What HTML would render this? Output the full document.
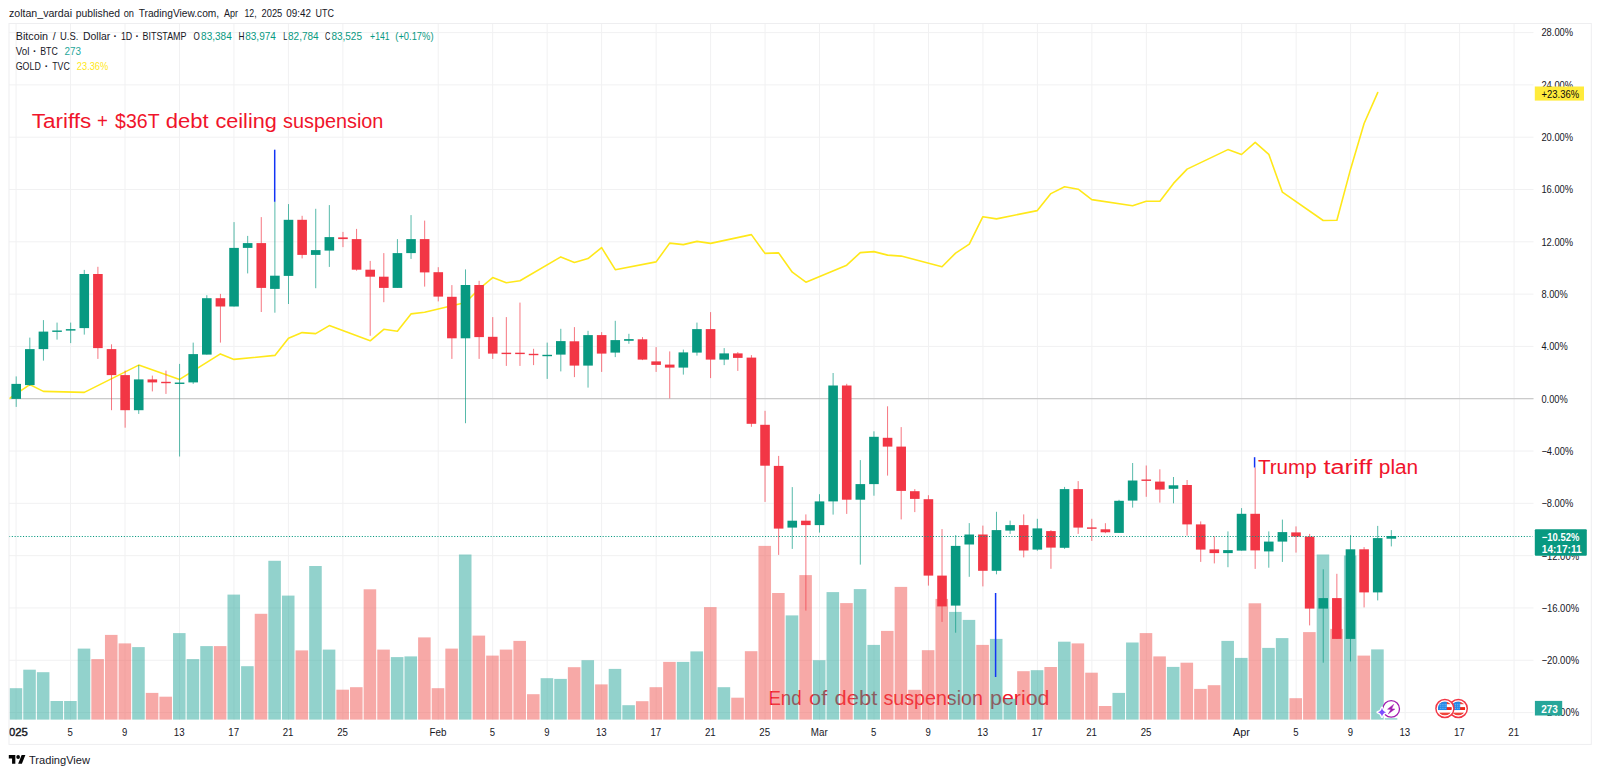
<!DOCTYPE html>
<html lang="en"><head><meta charset="utf-8"><title>BTCUSD chart</title>
<style>html,body{margin:0;padding:0;background:#fff;}body{width:1600px;height:775px;overflow:hidden;}svg{display:block;font-family:"Liberation Sans", "DejaVu Sans", sans-serif;}</style>
</head><body>
<svg width="1600" height="775" viewBox="0 0 1600 775">
<rect width="1600" height="775" fill="#fff"/>
<defs><clipPath id="pane"><rect x="9" y="24" width="1524.5" height="695.8"/></clipPath></defs>
<g stroke="#F1F1F2" stroke-width="1" shape-rendering="auto">
<line x1="16.07" y1="24" x2="16.07" y2="719.8"/>
<line x1="70.54" y1="24" x2="70.54" y2="719.8"/>
<line x1="125.01" y1="24" x2="125.01" y2="719.8"/>
<line x1="179.49" y1="24" x2="179.49" y2="719.8"/>
<line x1="233.96" y1="24" x2="233.96" y2="719.8"/>
<line x1="288.43" y1="24" x2="288.43" y2="719.8"/>
<line x1="342.90" y1="24" x2="342.90" y2="719.8"/>
<line x1="438.23" y1="24" x2="438.23" y2="719.8"/>
<line x1="492.70" y1="24" x2="492.70" y2="719.8"/>
<line x1="547.17" y1="24" x2="547.17" y2="719.8"/>
<line x1="601.64" y1="24" x2="601.64" y2="719.8"/>
<line x1="656.12" y1="24" x2="656.12" y2="719.8"/>
<line x1="710.59" y1="24" x2="710.59" y2="719.8"/>
<line x1="765.06" y1="24" x2="765.06" y2="719.8"/>
<line x1="819.53" y1="24" x2="819.53" y2="719.8"/>
<line x1="874.00" y1="24" x2="874.00" y2="719.8"/>
<line x1="928.48" y1="24" x2="928.48" y2="719.8"/>
<line x1="982.95" y1="24" x2="982.95" y2="719.8"/>
<line x1="1037.42" y1="24" x2="1037.42" y2="719.8"/>
<line x1="1091.89" y1="24" x2="1091.89" y2="719.8"/>
<line x1="1146.36" y1="24" x2="1146.36" y2="719.8"/>
<line x1="1241.69" y1="24" x2="1241.69" y2="719.8"/>
<line x1="1296.16" y1="24" x2="1296.16" y2="719.8"/>
<line x1="1350.63" y1="24" x2="1350.63" y2="719.8"/>
<line x1="1405.11" y1="24" x2="1405.11" y2="719.8"/>
<line x1="1459.58" y1="24" x2="1459.58" y2="719.8"/>
<line x1="1514.05" y1="24" x2="1514.05" y2="719.8"/>
<line x1="9" y1="32.58" x2="1533.5" y2="32.58"/>
<line x1="9" y1="84.88" x2="1533.5" y2="84.88"/>
<line x1="9" y1="137.19" x2="1533.5" y2="137.19"/>
<line x1="9" y1="189.50" x2="1533.5" y2="189.50"/>
<line x1="9" y1="241.81" x2="1533.5" y2="241.81"/>
<line x1="9" y1="294.11" x2="1533.5" y2="294.11"/>
<line x1="9" y1="346.42" x2="1533.5" y2="346.42"/>
<line x1="9" y1="398.73" x2="1533.5" y2="398.73"/>
<line x1="9" y1="451.04" x2="1533.5" y2="451.04"/>
<line x1="9" y1="503.35" x2="1533.5" y2="503.35"/>
<line x1="9" y1="555.65" x2="1533.5" y2="555.65"/>
<line x1="9" y1="607.96" x2="1533.5" y2="607.96"/>
<line x1="9" y1="660.27" x2="1533.5" y2="660.27"/>
<line x1="9" y1="712.58" x2="1533.5" y2="712.58"/>
</g>
<line x1="9" y1="398.6" x2="1533.5" y2="398.6" stroke="#CBCBCB" stroke-width="1.3"/>
<text x="768.40" y="704.70" font-size="20" fill="#F0142B" textLength="33.20" lengthAdjust="spacingAndGlyphs">End</text>
<text x="809.10" y="704.70" font-size="20" fill="#F0142B" textLength="18.20" lengthAdjust="spacingAndGlyphs">of</text>
<text x="834.40" y="704.70" font-size="20" fill="#F0142B" textLength="42.90" lengthAdjust="spacingAndGlyphs">debt</text>
<text x="883.50" y="704.70" font-size="20" fill="#F0142B" textLength="99.40" lengthAdjust="spacingAndGlyphs">suspension</text>
<text x="990.00" y="704.70" font-size="20" fill="#F0142B" textLength="59.50" lengthAdjust="spacingAndGlyphs">period</text>
<g clip-path="url(#pane)">
<rect x="9.65" y="688.20" width="12.55" height="31.60" fill="#26A69A" fill-opacity="0.5"/>
<rect x="23.26" y="669.70" width="12.55" height="50.10" fill="#26A69A" fill-opacity="0.5"/>
<rect x="36.88" y="672.20" width="12.55" height="47.60" fill="#26A69A" fill-opacity="0.5"/>
<rect x="50.50" y="701.00" width="12.55" height="18.80" fill="#26A69A" fill-opacity="0.5"/>
<rect x="64.11" y="701.00" width="12.55" height="18.80" fill="#26A69A" fill-opacity="0.5"/>
<rect x="77.73" y="648.60" width="12.55" height="71.20" fill="#26A69A" fill-opacity="0.5"/>
<rect x="91.34" y="659.10" width="12.55" height="60.70" fill="#EF5350" fill-opacity="0.5"/>
<rect x="104.96" y="634.90" width="12.55" height="84.90" fill="#EF5350" fill-opacity="0.5"/>
<rect x="118.57" y="643.40" width="12.55" height="76.40" fill="#EF5350" fill-opacity="0.5"/>
<rect x="132.18" y="647.10" width="12.55" height="72.70" fill="#26A69A" fill-opacity="0.5"/>
<rect x="145.80" y="692.90" width="12.55" height="26.90" fill="#EF5350" fill-opacity="0.5"/>
<rect x="159.41" y="696.70" width="12.55" height="23.10" fill="#EF5350" fill-opacity="0.5"/>
<rect x="173.03" y="633.10" width="12.55" height="86.70" fill="#26A69A" fill-opacity="0.5"/>
<rect x="186.64" y="659.10" width="12.55" height="60.70" fill="#26A69A" fill-opacity="0.5"/>
<rect x="200.26" y="646.10" width="12.55" height="73.70" fill="#26A69A" fill-opacity="0.5"/>
<rect x="213.87" y="646.10" width="12.55" height="73.70" fill="#EF5350" fill-opacity="0.5"/>
<rect x="227.49" y="594.60" width="12.55" height="125.20" fill="#26A69A" fill-opacity="0.5"/>
<rect x="241.10" y="666.20" width="12.55" height="53.60" fill="#26A69A" fill-opacity="0.5"/>
<rect x="254.72" y="613.80" width="12.55" height="106.00" fill="#EF5350" fill-opacity="0.5"/>
<rect x="268.33" y="560.80" width="12.55" height="159.00" fill="#26A69A" fill-opacity="0.5"/>
<rect x="281.95" y="595.60" width="12.55" height="124.20" fill="#26A69A" fill-opacity="0.5"/>
<rect x="295.56" y="650.40" width="12.55" height="69.40" fill="#EF5350" fill-opacity="0.5"/>
<rect x="309.18" y="566.00" width="12.55" height="153.80" fill="#26A69A" fill-opacity="0.5"/>
<rect x="322.79" y="649.60" width="12.55" height="70.20" fill="#26A69A" fill-opacity="0.5"/>
<rect x="336.41" y="689.70" width="12.55" height="30.10" fill="#EF5350" fill-opacity="0.5"/>
<rect x="350.02" y="687.20" width="12.55" height="32.60" fill="#EF5350" fill-opacity="0.5"/>
<rect x="363.64" y="589.30" width="12.55" height="130.50" fill="#EF5350" fill-opacity="0.5"/>
<rect x="377.25" y="649.60" width="12.55" height="70.20" fill="#EF5350" fill-opacity="0.5"/>
<rect x="390.87" y="657.10" width="12.55" height="62.70" fill="#26A69A" fill-opacity="0.5"/>
<rect x="404.48" y="656.40" width="12.55" height="63.40" fill="#26A69A" fill-opacity="0.5"/>
<rect x="418.10" y="637.40" width="12.55" height="82.40" fill="#EF5350" fill-opacity="0.5"/>
<rect x="431.71" y="688.20" width="12.55" height="31.60" fill="#EF5350" fill-opacity="0.5"/>
<rect x="445.33" y="648.60" width="12.55" height="71.20" fill="#EF5350" fill-opacity="0.5"/>
<rect x="458.94" y="554.50" width="12.55" height="165.30" fill="#26A69A" fill-opacity="0.5"/>
<rect x="472.56" y="635.60" width="12.55" height="84.20" fill="#EF5350" fill-opacity="0.5"/>
<rect x="486.18" y="655.60" width="12.55" height="64.20" fill="#EF5350" fill-opacity="0.5"/>
<rect x="499.79" y="649.60" width="12.55" height="70.20" fill="#EF5350" fill-opacity="0.5"/>
<rect x="513.41" y="640.90" width="12.55" height="78.90" fill="#EF5350" fill-opacity="0.5"/>
<rect x="527.02" y="694.20" width="12.55" height="25.60" fill="#EF5350" fill-opacity="0.5"/>
<rect x="540.64" y="678.20" width="12.55" height="41.60" fill="#26A69A" fill-opacity="0.5"/>
<rect x="554.25" y="678.90" width="12.55" height="40.90" fill="#26A69A" fill-opacity="0.5"/>
<rect x="567.87" y="667.20" width="12.55" height="52.60" fill="#EF5350" fill-opacity="0.5"/>
<rect x="581.48" y="660.20" width="12.55" height="59.60" fill="#26A69A" fill-opacity="0.5"/>
<rect x="595.10" y="684.40" width="12.55" height="35.40" fill="#EF5350" fill-opacity="0.5"/>
<rect x="608.71" y="668.90" width="12.55" height="50.90" fill="#26A69A" fill-opacity="0.5"/>
<rect x="622.33" y="705.20" width="12.55" height="14.60" fill="#26A69A" fill-opacity="0.5"/>
<rect x="635.94" y="701.20" width="12.55" height="18.60" fill="#EF5350" fill-opacity="0.5"/>
<rect x="649.56" y="687.20" width="12.55" height="32.60" fill="#EF5350" fill-opacity="0.5"/>
<rect x="663.17" y="661.90" width="12.55" height="57.90" fill="#EF5350" fill-opacity="0.5"/>
<rect x="676.79" y="661.90" width="12.55" height="57.90" fill="#26A69A" fill-opacity="0.5"/>
<rect x="690.40" y="651.40" width="12.55" height="68.40" fill="#26A69A" fill-opacity="0.5"/>
<rect x="704.02" y="607.10" width="12.55" height="112.70" fill="#EF5350" fill-opacity="0.5"/>
<rect x="717.63" y="687.20" width="12.55" height="32.60" fill="#26A69A" fill-opacity="0.5"/>
<rect x="731.25" y="697.70" width="12.55" height="22.10" fill="#EF5350" fill-opacity="0.5"/>
<rect x="744.86" y="651.20" width="12.55" height="68.60" fill="#EF5350" fill-opacity="0.5"/>
<rect x="758.48" y="545.90" width="12.55" height="173.90" fill="#EF5350" fill-opacity="0.5"/>
<rect x="772.09" y="593.00" width="12.55" height="126.80" fill="#EF5350" fill-opacity="0.5"/>
<rect x="785.71" y="615.40" width="12.55" height="104.40" fill="#26A69A" fill-opacity="0.5"/>
<rect x="799.32" y="575.10" width="12.55" height="144.70" fill="#EF5350" fill-opacity="0.5"/>
<rect x="812.94" y="660.20" width="12.55" height="59.60" fill="#26A69A" fill-opacity="0.5"/>
<rect x="826.55" y="592.10" width="12.55" height="127.70" fill="#26A69A" fill-opacity="0.5"/>
<rect x="840.17" y="603.10" width="12.55" height="116.70" fill="#EF5350" fill-opacity="0.5"/>
<rect x="853.78" y="589.10" width="12.55" height="130.70" fill="#26A69A" fill-opacity="0.5"/>
<rect x="867.40" y="644.90" width="12.55" height="74.90" fill="#26A69A" fill-opacity="0.5"/>
<rect x="881.01" y="630.90" width="12.55" height="88.90" fill="#EF5350" fill-opacity="0.5"/>
<rect x="894.63" y="586.90" width="12.55" height="132.90" fill="#EF5350" fill-opacity="0.5"/>
<rect x="908.24" y="689.80" width="12.55" height="30.00" fill="#EF5350" fill-opacity="0.5"/>
<rect x="921.86" y="650.20" width="12.55" height="69.60" fill="#EF5350" fill-opacity="0.5"/>
<rect x="935.47" y="598.90" width="12.55" height="120.90" fill="#EF5350" fill-opacity="0.5"/>
<rect x="949.09" y="611.90" width="12.55" height="107.90" fill="#26A69A" fill-opacity="0.5"/>
<rect x="962.70" y="619.90" width="12.55" height="99.90" fill="#26A69A" fill-opacity="0.5"/>
<rect x="976.32" y="644.90" width="12.55" height="74.90" fill="#EF5350" fill-opacity="0.5"/>
<rect x="989.93" y="638.90" width="12.55" height="80.90" fill="#26A69A" fill-opacity="0.5"/>
<rect x="1003.55" y="698.80" width="12.55" height="21.00" fill="#26A69A" fill-opacity="0.5"/>
<rect x="1017.16" y="671.20" width="12.55" height="48.60" fill="#EF5350" fill-opacity="0.5"/>
<rect x="1030.78" y="670.20" width="12.55" height="49.60" fill="#26A69A" fill-opacity="0.5"/>
<rect x="1044.39" y="667.00" width="12.55" height="52.80" fill="#EF5350" fill-opacity="0.5"/>
<rect x="1058.01" y="641.70" width="12.55" height="78.10" fill="#26A69A" fill-opacity="0.5"/>
<rect x="1071.62" y="643.40" width="12.55" height="76.40" fill="#EF5350" fill-opacity="0.5"/>
<rect x="1085.24" y="672.70" width="12.55" height="47.10" fill="#EF5350" fill-opacity="0.5"/>
<rect x="1098.85" y="706.00" width="12.55" height="13.80" fill="#EF5350" fill-opacity="0.5"/>
<rect x="1112.47" y="692.90" width="12.55" height="26.90" fill="#26A69A" fill-opacity="0.5"/>
<rect x="1126.08" y="642.50" width="12.55" height="77.30" fill="#26A69A" fill-opacity="0.5"/>
<rect x="1139.70" y="633.10" width="12.55" height="86.70" fill="#EF5350" fill-opacity="0.5"/>
<rect x="1153.31" y="656.40" width="12.55" height="63.40" fill="#EF5350" fill-opacity="0.5"/>
<rect x="1166.93" y="666.90" width="12.55" height="52.90" fill="#26A69A" fill-opacity="0.5"/>
<rect x="1180.54" y="662.70" width="12.55" height="57.10" fill="#EF5350" fill-opacity="0.5"/>
<rect x="1194.16" y="688.90" width="12.55" height="30.90" fill="#EF5350" fill-opacity="0.5"/>
<rect x="1207.77" y="685.20" width="12.55" height="34.60" fill="#EF5350" fill-opacity="0.5"/>
<rect x="1221.39" y="640.90" width="12.55" height="78.90" fill="#26A69A" fill-opacity="0.5"/>
<rect x="1235.00" y="657.90" width="12.55" height="61.90" fill="#26A69A" fill-opacity="0.5"/>
<rect x="1248.62" y="603.30" width="12.55" height="116.50" fill="#EF5350" fill-opacity="0.5"/>
<rect x="1262.23" y="647.90" width="12.55" height="71.90" fill="#26A69A" fill-opacity="0.5"/>
<rect x="1275.85" y="638.10" width="12.55" height="81.70" fill="#26A69A" fill-opacity="0.5"/>
<rect x="1289.46" y="698.20" width="12.55" height="21.60" fill="#EF5350" fill-opacity="0.5"/>
<rect x="1303.08" y="632.10" width="12.55" height="87.70" fill="#EF5350" fill-opacity="0.5"/>
<rect x="1316.69" y="554.50" width="12.55" height="165.30" fill="#26A69A" fill-opacity="0.5"/>
<rect x="1330.31" y="628.90" width="12.55" height="90.90" fill="#EF5350" fill-opacity="0.5"/>
<rect x="1343.92" y="555.50" width="12.55" height="164.30" fill="#26A69A" fill-opacity="0.5"/>
<rect x="1357.54" y="655.60" width="12.55" height="64.20" fill="#EF5350" fill-opacity="0.5"/>
<rect x="1371.15" y="649.40" width="12.55" height="70.40" fill="#26A69A" fill-opacity="0.5"/>
<rect x="1384.77" y="718.20" width="12.55" height="1.60" fill="#26A69A" fill-opacity="0.5"/>
<polyline fill="none" stroke="#FFE81A" stroke-width="1.6" stroke-linejoin="round" stroke-linecap="round" points="9.2,398.5 29.8,384.6 43.4,391.4 84.3,392.4 138.7,365.1 179.6,379.4 220.4,353.9 234.0,359.4 274.9,355.4 288.5,338.3 302.1,332.6 315.7,333.6 329.3,325.6 370.2,340.8 383.8,329.3 397.4,331.2 411.0,313.9 424.6,312.2 465.5,302.5 479.1,289.0 492.7,277.6 506.3,282.8 520.0,280.8 560.8,256.9 574.4,262.4 588.0,258.6 601.6,247.6 615.3,269.7 656.1,261.9 669.7,243.1 683.3,244.6 697.0,241.4 710.6,243.4 751.4,234.6 765.0,253.4 778.6,252.9 792.3,272.2 805.9,282.2 846.7,265.2 860.3,252.6 873.9,251.6 887.6,255.1 901.2,256.1 942.0,266.7 955.6,253.1 969.3,244.1 982.9,216.7 996.5,218.9 1037.3,210.6 1050.9,193.6 1064.6,186.7 1078.2,189.2 1091.8,199.6 1132.6,205.7 1146.2,201.3 1159.9,201.3 1173.5,183.4 1187.1,169.1 1227.9,149.6 1241.5,154.5 1255.2,142.4 1268.8,154.3 1282.4,192.2 1323.2,220.5 1336.9,220.3 1350.5,169.4 1364.1,123.5 1377.7,92.6"/>
<rect x="15.70" y="376.40" width="1" height="30.50" fill="#089981" fill-opacity="0.68"/>
<rect x="11.40" y="383.90" width="9.6" height="15.00" fill="#089981"/>
<rect x="29.31" y="337.60" width="1" height="48.30" fill="#089981" fill-opacity="0.68"/>
<rect x="25.01" y="349.10" width="9.6" height="36.00" fill="#089981"/>
<rect x="42.93" y="320.10" width="1" height="40.50" fill="#089981" fill-opacity="0.68"/>
<rect x="38.63" y="331.60" width="9.6" height="17.50" fill="#089981"/>
<rect x="56.55" y="322.60" width="1" height="17.00" fill="#089981" fill-opacity="0.68"/>
<rect x="52.25" y="330.50" width="9.6" height="1.40" fill="#089981"/>
<rect x="70.16" y="322.60" width="1" height="20.50" fill="#089981" fill-opacity="0.68"/>
<rect x="65.86" y="329.10" width="9.6" height="1.50" fill="#089981"/>
<rect x="83.78" y="269.90" width="1" height="64.70" fill="#089981" fill-opacity="0.68"/>
<rect x="79.48" y="274.00" width="9.6" height="54.10" fill="#089981"/>
<rect x="97.39" y="266.80" width="1" height="92.10" fill="#F23645" fill-opacity="0.68"/>
<rect x="93.09" y="274.00" width="9.6" height="74.10" fill="#F23645"/>
<rect x="111.01" y="344.30" width="1" height="65.90" fill="#F23645" fill-opacity="0.68"/>
<rect x="106.71" y="349.10" width="9.6" height="26.00" fill="#F23645"/>
<rect x="124.62" y="370.60" width="1" height="57.10" fill="#F23645" fill-opacity="0.68"/>
<rect x="120.32" y="375.10" width="9.6" height="35.10" fill="#F23645"/>
<rect x="138.23" y="365.10" width="1" height="48.80" fill="#089981" fill-opacity="0.68"/>
<rect x="133.93" y="379.40" width="9.6" height="30.80" fill="#089981"/>
<rect x="151.85" y="375.60" width="1" height="15.80" fill="#F23645" fill-opacity="0.68"/>
<rect x="147.55" y="379.40" width="9.6" height="3.00" fill="#F23645"/>
<rect x="165.47" y="370.60" width="1" height="23.30" fill="#F23645" fill-opacity="0.68"/>
<rect x="161.16" y="381.80" width="9.6" height="1.40" fill="#F23645"/>
<rect x="179.08" y="363.90" width="1" height="92.60" fill="#089981" fill-opacity="0.68"/>
<rect x="174.78" y="382.55" width="9.6" height="1.40" fill="#089981"/>
<rect x="192.69" y="342.60" width="1" height="41.30" fill="#089981" fill-opacity="0.68"/>
<rect x="188.39" y="354.10" width="9.6" height="28.30" fill="#089981"/>
<rect x="206.31" y="295.20" width="1" height="59.40" fill="#089981" fill-opacity="0.68"/>
<rect x="202.01" y="298.20" width="9.6" height="56.40" fill="#089981"/>
<rect x="219.92" y="293.90" width="1" height="48.70" fill="#F23645" fill-opacity="0.68"/>
<rect x="215.62" y="298.20" width="9.6" height="8.30" fill="#F23645"/>
<rect x="233.54" y="222.10" width="1" height="84.40" fill="#089981" fill-opacity="0.68"/>
<rect x="229.24" y="247.90" width="9.6" height="58.60" fill="#089981"/>
<rect x="247.16" y="235.90" width="1" height="37.50" fill="#089981" fill-opacity="0.68"/>
<rect x="242.85" y="243.10" width="9.6" height="4.80" fill="#089981"/>
<rect x="260.77" y="217.10" width="1" height="94.90" fill="#F23645" fill-opacity="0.68"/>
<rect x="256.47" y="243.10" width="9.6" height="44.80" fill="#F23645"/>
<rect x="274.38" y="201.80" width="1" height="110.90" fill="#089981" fill-opacity="0.68"/>
<rect x="270.08" y="275.70" width="9.6" height="13.20" fill="#089981"/>
<rect x="288.00" y="204.10" width="1" height="99.90" fill="#089981" fill-opacity="0.68"/>
<rect x="283.70" y="219.80" width="9.6" height="56.10" fill="#089981"/>
<rect x="301.62" y="215.80" width="1" height="42.60" fill="#F23645" fill-opacity="0.68"/>
<rect x="297.31" y="219.80" width="9.6" height="35.10" fill="#F23645"/>
<rect x="315.23" y="208.80" width="1" height="79.40" fill="#089981" fill-opacity="0.68"/>
<rect x="310.93" y="250.10" width="9.6" height="4.80" fill="#089981"/>
<rect x="328.84" y="205.10" width="1" height="61.80" fill="#089981" fill-opacity="0.68"/>
<rect x="324.54" y="237.10" width="9.6" height="13.50" fill="#089981"/>
<rect x="342.46" y="231.90" width="1" height="15.20" fill="#F23645" fill-opacity="0.68"/>
<rect x="338.16" y="237.40" width="9.6" height="1.70" fill="#F23645"/>
<rect x="356.07" y="228.90" width="1" height="41.80" fill="#F23645" fill-opacity="0.68"/>
<rect x="351.77" y="239.10" width="9.6" height="30.60" fill="#F23645"/>
<rect x="369.69" y="260.90" width="1" height="74.90" fill="#F23645" fill-opacity="0.68"/>
<rect x="365.39" y="269.70" width="9.6" height="7.00" fill="#F23645"/>
<rect x="383.31" y="253.10" width="1" height="49.10" fill="#F23645" fill-opacity="0.68"/>
<rect x="379.00" y="276.70" width="9.6" height="11.20" fill="#F23645"/>
<rect x="396.92" y="239.10" width="1" height="48.80" fill="#089981" fill-opacity="0.68"/>
<rect x="392.62" y="253.10" width="9.6" height="34.80" fill="#089981"/>
<rect x="410.53" y="215.10" width="1" height="43.80" fill="#089981" fill-opacity="0.68"/>
<rect x="406.23" y="239.10" width="9.6" height="14.00" fill="#089981"/>
<rect x="424.15" y="220.60" width="1" height="66.00" fill="#F23645" fill-opacity="0.68"/>
<rect x="419.85" y="239.10" width="9.6" height="33.30" fill="#F23645"/>
<rect x="437.76" y="267.20" width="1" height="34.20" fill="#F23645" fill-opacity="0.68"/>
<rect x="433.46" y="272.20" width="9.6" height="24.40" fill="#F23645"/>
<rect x="451.38" y="285.10" width="1" height="73.80" fill="#F23645" fill-opacity="0.68"/>
<rect x="447.08" y="296.80" width="9.6" height="41.50" fill="#F23645"/>
<rect x="465.00" y="269.40" width="1" height="153.80" fill="#089981" fill-opacity="0.68"/>
<rect x="460.69" y="285.00" width="9.6" height="53.30" fill="#089981"/>
<rect x="478.61" y="280.80" width="1" height="78.10" fill="#F23645" fill-opacity="0.68"/>
<rect x="474.31" y="285.00" width="9.6" height="52.10" fill="#F23645"/>
<rect x="492.23" y="317.10" width="1" height="41.80" fill="#F23645" fill-opacity="0.68"/>
<rect x="487.93" y="336.80" width="9.6" height="16.80" fill="#F23645"/>
<rect x="505.84" y="317.10" width="1" height="48.80" fill="#F23645" fill-opacity="0.68"/>
<rect x="501.54" y="352.70" width="9.6" height="1.40" fill="#F23645"/>
<rect x="519.46" y="302.60" width="1" height="63.30" fill="#F23645" fill-opacity="0.68"/>
<rect x="515.16" y="352.70" width="9.6" height="1.40" fill="#F23645"/>
<rect x="533.07" y="348.80" width="1" height="16.30" fill="#F23645" fill-opacity="0.68"/>
<rect x="528.77" y="353.80" width="9.6" height="1.40" fill="#F23645"/>
<rect x="546.69" y="342.60" width="1" height="36.30" fill="#089981" fill-opacity="0.68"/>
<rect x="542.39" y="354.80" width="9.6" height="1.40" fill="#089981"/>
<rect x="560.30" y="328.80" width="1" height="42.60" fill="#089981" fill-opacity="0.68"/>
<rect x="556.00" y="341.10" width="9.6" height="13.50" fill="#089981"/>
<rect x="573.92" y="327.10" width="1" height="50.00" fill="#F23645" fill-opacity="0.68"/>
<rect x="569.62" y="341.30" width="9.6" height="24.30" fill="#F23645"/>
<rect x="587.53" y="330.80" width="1" height="56.80" fill="#089981" fill-opacity="0.68"/>
<rect x="583.23" y="335.10" width="9.6" height="30.50" fill="#089981"/>
<rect x="601.15" y="332.10" width="1" height="39.80" fill="#F23645" fill-opacity="0.68"/>
<rect x="596.85" y="335.10" width="9.6" height="18.50" fill="#F23645"/>
<rect x="614.76" y="320.80" width="1" height="36.30" fill="#089981" fill-opacity="0.68"/>
<rect x="610.46" y="340.10" width="9.6" height="12.50" fill="#089981"/>
<rect x="628.38" y="333.80" width="1" height="10.00" fill="#089981" fill-opacity="0.68"/>
<rect x="624.08" y="339.10" width="9.6" height="1.70" fill="#089981"/>
<rect x="641.99" y="337.10" width="1" height="23.00" fill="#F23645" fill-opacity="0.68"/>
<rect x="637.69" y="339.30" width="9.6" height="20.30" fill="#F23645"/>
<rect x="655.61" y="347.10" width="1" height="24.80" fill="#F23645" fill-opacity="0.68"/>
<rect x="651.31" y="361.40" width="9.6" height="3.50" fill="#F23645"/>
<rect x="669.22" y="351.40" width="1" height="47.00" fill="#F23645" fill-opacity="0.68"/>
<rect x="664.92" y="364.60" width="9.6" height="3.00" fill="#F23645"/>
<rect x="682.84" y="349.60" width="1" height="25.00" fill="#089981" fill-opacity="0.68"/>
<rect x="678.54" y="352.40" width="9.6" height="15.20" fill="#089981"/>
<rect x="696.45" y="322.60" width="1" height="33.00" fill="#089981" fill-opacity="0.68"/>
<rect x="692.15" y="329.10" width="9.6" height="23.50" fill="#089981"/>
<rect x="710.07" y="312.10" width="1" height="66.00" fill="#F23645" fill-opacity="0.68"/>
<rect x="705.77" y="329.10" width="9.6" height="30.50" fill="#F23645"/>
<rect x="723.68" y="348.10" width="1" height="17.00" fill="#089981" fill-opacity="0.68"/>
<rect x="719.38" y="353.40" width="9.6" height="6.20" fill="#089981"/>
<rect x="737.30" y="352.10" width="1" height="18.80" fill="#F23645" fill-opacity="0.68"/>
<rect x="733.00" y="353.40" width="9.6" height="4.50" fill="#F23645"/>
<rect x="750.91" y="355.10" width="1" height="71.70" fill="#F23645" fill-opacity="0.68"/>
<rect x="746.61" y="357.60" width="9.6" height="66.20" fill="#F23645"/>
<rect x="764.53" y="410.80" width="1" height="91.10" fill="#F23645" fill-opacity="0.68"/>
<rect x="760.23" y="424.80" width="9.6" height="40.90" fill="#F23645"/>
<rect x="778.14" y="455.90" width="1" height="99.00" fill="#F23645" fill-opacity="0.68"/>
<rect x="773.84" y="465.90" width="9.6" height="62.70" fill="#F23645"/>
<rect x="791.76" y="487.10" width="1" height="61.80" fill="#089981" fill-opacity="0.68"/>
<rect x="787.46" y="520.70" width="9.6" height="6.90" fill="#089981"/>
<rect x="805.37" y="514.40" width="1" height="96.20" fill="#F23645" fill-opacity="0.68"/>
<rect x="801.07" y="520.70" width="9.6" height="4.40" fill="#F23645"/>
<rect x="818.99" y="494.20" width="1" height="38.40" fill="#089981" fill-opacity="0.68"/>
<rect x="814.69" y="501.40" width="9.6" height="23.70" fill="#089981"/>
<rect x="832.60" y="373.00" width="1" height="141.60" fill="#089981" fill-opacity="0.68"/>
<rect x="828.30" y="385.50" width="9.6" height="115.90" fill="#089981"/>
<rect x="846.22" y="383.80" width="1" height="130.10" fill="#F23645" fill-opacity="0.68"/>
<rect x="841.92" y="385.50" width="9.6" height="114.20" fill="#F23645"/>
<rect x="859.83" y="460.10" width="1" height="104.50" fill="#089981" fill-opacity="0.68"/>
<rect x="855.53" y="484.10" width="9.6" height="15.60" fill="#089981"/>
<rect x="873.45" y="431.30" width="1" height="64.40" fill="#089981" fill-opacity="0.68"/>
<rect x="869.15" y="436.80" width="9.6" height="47.30" fill="#089981"/>
<rect x="887.06" y="406.30" width="1" height="69.30" fill="#F23645" fill-opacity="0.68"/>
<rect x="882.76" y="437.80" width="9.6" height="8.80" fill="#F23645"/>
<rect x="900.68" y="427.10" width="1" height="92.30" fill="#F23645" fill-opacity="0.68"/>
<rect x="896.38" y="446.60" width="9.6" height="44.30" fill="#F23645"/>
<rect x="914.29" y="489.10" width="1" height="23.00" fill="#F23645" fill-opacity="0.68"/>
<rect x="909.99" y="491.20" width="9.6" height="7.70" fill="#F23645"/>
<rect x="927.91" y="495.20" width="1" height="90.40" fill="#F23645" fill-opacity="0.68"/>
<rect x="923.61" y="499.20" width="9.6" height="76.40" fill="#F23645"/>
<rect x="941.52" y="529.10" width="1" height="92.80" fill="#F23645" fill-opacity="0.68"/>
<rect x="937.22" y="575.60" width="9.6" height="30.80" fill="#F23645"/>
<rect x="955.14" y="535.10" width="1" height="97.60" fill="#089981" fill-opacity="0.68"/>
<rect x="950.84" y="545.90" width="9.6" height="59.70" fill="#089981"/>
<rect x="968.75" y="523.10" width="1" height="53.70" fill="#089981" fill-opacity="0.68"/>
<rect x="964.45" y="534.50" width="9.6" height="10.00" fill="#089981"/>
<rect x="982.37" y="525.60" width="1" height="60.80" fill="#F23645" fill-opacity="0.68"/>
<rect x="978.07" y="534.50" width="9.6" height="36.30" fill="#F23645"/>
<rect x="995.98" y="511.80" width="1" height="62.50" fill="#089981" fill-opacity="0.68"/>
<rect x="991.68" y="530.10" width="9.6" height="40.70" fill="#089981"/>
<rect x="1009.60" y="520.60" width="1" height="13.30" fill="#089981" fill-opacity="0.68"/>
<rect x="1005.30" y="525.10" width="9.6" height="5.50" fill="#089981"/>
<rect x="1023.21" y="514.40" width="1" height="43.00" fill="#F23645" fill-opacity="0.68"/>
<rect x="1018.91" y="525.10" width="9.6" height="25.40" fill="#F23645"/>
<rect x="1036.83" y="518.80" width="1" height="32.00" fill="#089981" fill-opacity="0.68"/>
<rect x="1032.53" y="528.40" width="9.6" height="21.20" fill="#089981"/>
<rect x="1050.44" y="530.10" width="1" height="38.70" fill="#F23645" fill-opacity="0.68"/>
<rect x="1046.14" y="531.10" width="9.6" height="16.50" fill="#F23645"/>
<rect x="1064.06" y="486.90" width="1" height="62.00" fill="#089981" fill-opacity="0.68"/>
<rect x="1059.76" y="489.10" width="9.6" height="58.70" fill="#089981"/>
<rect x="1077.67" y="481.10" width="1" height="52.80" fill="#F23645" fill-opacity="0.68"/>
<rect x="1073.37" y="489.10" width="9.6" height="38.50" fill="#F23645"/>
<rect x="1091.29" y="518.80" width="1" height="22.10" fill="#F23645" fill-opacity="0.68"/>
<rect x="1086.99" y="527.40" width="9.6" height="1.40" fill="#F23645"/>
<rect x="1104.90" y="523.20" width="1" height="10.00" fill="#F23645" fill-opacity="0.68"/>
<rect x="1100.60" y="529.30" width="9.6" height="3.00" fill="#F23645"/>
<rect x="1118.52" y="499.80" width="1" height="33.10" fill="#089981" fill-opacity="0.68"/>
<rect x="1114.22" y="500.80" width="9.6" height="32.10" fill="#089981"/>
<rect x="1132.13" y="463.00" width="1" height="44.60" fill="#089981" fill-opacity="0.68"/>
<rect x="1127.83" y="480.50" width="9.6" height="20.10" fill="#089981"/>
<rect x="1145.75" y="465.50" width="1" height="31.30" fill="#F23645" fill-opacity="0.68"/>
<rect x="1141.45" y="479.50" width="9.6" height="1.40" fill="#F23645"/>
<rect x="1159.36" y="469.30" width="1" height="33.30" fill="#F23645" fill-opacity="0.68"/>
<rect x="1155.06" y="481.60" width="9.6" height="8.00" fill="#F23645"/>
<rect x="1172.98" y="477.00" width="1" height="26.30" fill="#089981" fill-opacity="0.68"/>
<rect x="1168.68" y="485.30" width="9.6" height="3.50" fill="#089981"/>
<rect x="1186.59" y="480.00" width="1" height="55.60" fill="#F23645" fill-opacity="0.68"/>
<rect x="1182.29" y="485.00" width="9.6" height="39.40" fill="#F23645"/>
<rect x="1200.21" y="521.40" width="1" height="40.50" fill="#F23645" fill-opacity="0.68"/>
<rect x="1195.91" y="524.40" width="9.6" height="25.20" fill="#F23645"/>
<rect x="1213.82" y="536.40" width="1" height="27.00" fill="#F23645" fill-opacity="0.68"/>
<rect x="1209.52" y="549.40" width="9.6" height="3.70" fill="#F23645"/>
<rect x="1227.44" y="531.40" width="1" height="35.80" fill="#089981" fill-opacity="0.68"/>
<rect x="1223.14" y="550.10" width="9.6" height="3.00" fill="#089981"/>
<rect x="1241.05" y="508.10" width="1" height="42.50" fill="#089981" fill-opacity="0.68"/>
<rect x="1236.75" y="513.80" width="9.6" height="36.80" fill="#089981"/>
<rect x="1254.66" y="467.50" width="1" height="101.40" fill="#F23645" fill-opacity="0.68"/>
<rect x="1250.37" y="513.80" width="9.6" height="36.60" fill="#F23645"/>
<rect x="1268.28" y="531.40" width="1" height="36.30" fill="#089981" fill-opacity="0.68"/>
<rect x="1263.98" y="541.60" width="9.6" height="9.80" fill="#089981"/>
<rect x="1281.89" y="519.60" width="1" height="42.30" fill="#089981" fill-opacity="0.68"/>
<rect x="1277.60" y="532.10" width="9.6" height="9.50" fill="#089981"/>
<rect x="1295.51" y="526.40" width="1" height="26.20" fill="#F23645" fill-opacity="0.68"/>
<rect x="1291.21" y="532.40" width="9.6" height="4.20" fill="#F23645"/>
<rect x="1309.12" y="533.90" width="1" height="91.50" fill="#F23645" fill-opacity="0.68"/>
<rect x="1304.83" y="536.60" width="9.6" height="72.00" fill="#F23645"/>
<rect x="1322.74" y="569.30" width="1" height="93.40" fill="#089981" fill-opacity="0.68"/>
<rect x="1318.44" y="598.10" width="9.6" height="10.50" fill="#089981"/>
<rect x="1336.36" y="573.80" width="1" height="65.10" fill="#F23645" fill-opacity="0.68"/>
<rect x="1332.06" y="598.10" width="9.6" height="40.80" fill="#F23645"/>
<rect x="1349.97" y="535.10" width="1" height="126.30" fill="#089981" fill-opacity="0.68"/>
<rect x="1345.67" y="549.30" width="9.6" height="89.60" fill="#089981"/>
<rect x="1363.59" y="547.10" width="1" height="60.30" fill="#F23645" fill-opacity="0.68"/>
<rect x="1359.29" y="549.30" width="9.6" height="43.10" fill="#F23645"/>
<rect x="1377.20" y="525.90" width="1" height="74.50" fill="#089981" fill-opacity="0.68"/>
<rect x="1372.90" y="538.10" width="9.6" height="54.30" fill="#089981"/>
<rect x="1390.82" y="530.10" width="1" height="16.30" fill="#089981" fill-opacity="0.68"/>
<rect x="1386.52" y="536.00" width="9.6" height="2.70" fill="#089981"/>
</g>
<line x1="274.7" y1="149.7" x2="274.7" y2="201.8" stroke="#1234F5" stroke-width="1.5"/>
<line x1="995.6" y1="593" x2="995.6" y2="677" stroke="#1234F5" stroke-width="1.5"/>
<line x1="1254.6" y1="457.2" x2="1254.6" y2="467.5" stroke="#1234F5" stroke-width="1.5"/>
<text x="31.70" y="127.80" font-size="20" fill="#F0142B" textLength="59.50" lengthAdjust="spacingAndGlyphs">Tariffs</text>
<text x="97.00" y="127.80" font-size="20" fill="#F0142B" textLength="10.90" lengthAdjust="spacingAndGlyphs">+</text>
<text x="115.10" y="127.80" font-size="20" fill="#F0142B" textLength="44.50" lengthAdjust="spacingAndGlyphs">$36T</text>
<text x="165.80" y="127.80" font-size="20" fill="#F0142B" textLength="42.90" lengthAdjust="spacingAndGlyphs">debt</text>
<text x="215.40" y="127.80" font-size="20" fill="#F0142B" textLength="61.40" lengthAdjust="spacingAndGlyphs">ceiling</text>
<text x="283.00" y="127.80" font-size="20" fill="#F0142B" textLength="100.40" lengthAdjust="spacingAndGlyphs">suspension</text>
<text x="1257.90" y="473.80" font-size="20" fill="#F0142B" textLength="58.80" lengthAdjust="spacingAndGlyphs">Trump</text>
<text x="1323.40" y="473.80" font-size="20" fill="#F0142B" textLength="48.80" lengthAdjust="spacingAndGlyphs">tariff</text>
<text x="1378.80" y="473.80" font-size="20" fill="#F0142B" textLength="39.40" lengthAdjust="spacingAndGlyphs">plan</text>
<line x1="9" y1="536.5" x2="1532.6" y2="536.5" stroke="#089981" stroke-width="1" stroke-dasharray="1.1 1.7"/>
<rect x="9.0" y="23.45" width="1582.3" height="720.95" fill="none" stroke="#EEEEF0" stroke-width="1"/>
<text x="9.00" y="16.60" font-size="10.6" fill="#17181F" textLength="63.00" lengthAdjust="spacingAndGlyphs">zoltan_vardai</text>
<text x="75.70" y="16.60" font-size="10.6" fill="#17181F" textLength="44.30" lengthAdjust="spacingAndGlyphs">published</text>
<text x="123.70" y="16.60" font-size="10.6" fill="#17181F" textLength="10.30" lengthAdjust="spacingAndGlyphs">on</text>
<text x="138.70" y="16.60" font-size="10.6" fill="#17181F" textLength="80.50" lengthAdjust="spacingAndGlyphs">TradingView.com,</text>
<text x="224.10" y="16.60" font-size="10.6" fill="#17181F" textLength="14.00" lengthAdjust="spacingAndGlyphs">Apr</text>
<text x="244.40" y="16.60" font-size="10.6" fill="#17181F" textLength="12.20" lengthAdjust="spacingAndGlyphs">12,</text>
<text x="261.50" y="16.60" font-size="10.6" fill="#17181F" textLength="20.80" lengthAdjust="spacingAndGlyphs">2025</text>
<text x="286.30" y="16.60" font-size="10.6" fill="#17181F" textLength="24.70" lengthAdjust="spacingAndGlyphs">09:42</text>
<text x="315.60" y="16.60" font-size="10.6" fill="#17181F" textLength="18.40" lengthAdjust="spacingAndGlyphs">UTC</text>
<text x="15.75" y="39.90" font-size="10.4" fill="#17181F" textLength="32.25" lengthAdjust="spacingAndGlyphs">Bitcoin</text>
<text x="54.25" y="39.90" font-size="10.4" fill="#17181F" text-anchor="middle">/</text>
<text x="60.00" y="39.90" font-size="10.4" fill="#17181F" textLength="18.30" lengthAdjust="spacingAndGlyphs">U.S.</text>
<text x="83.00" y="39.90" font-size="10.4" fill="#17181F" textLength="27.30" lengthAdjust="spacingAndGlyphs">Dollar</text>
<text x="115.20" y="39.90" font-size="10.4" fill="#17181F" text-anchor="middle" font-weight="bold">·</text>
<text x="120.90" y="39.90" font-size="10.4" fill="#17181F" textLength="11.40" lengthAdjust="spacingAndGlyphs">1D</text>
<text x="137.20" y="39.90" font-size="10.4" fill="#17181F" text-anchor="middle" font-weight="bold">·</text>
<text x="142.50" y="39.90" font-size="10.4" fill="#17181F" textLength="44.00" lengthAdjust="spacingAndGlyphs">BITSTAMP</text>
<text x="193.50" y="39.90" font-size="10.4" fill="#17181F" textLength="6.30" lengthAdjust="spacingAndGlyphs">O</text>
<text x="201.10" y="39.90" font-size="10.4" fill="#089981" textLength="30.60" lengthAdjust="spacingAndGlyphs">83,384</text>
<text x="238.50" y="39.90" font-size="10.4" fill="#17181F" textLength="6.00" lengthAdjust="spacingAndGlyphs">H</text>
<text x="245.20" y="39.90" font-size="10.4" fill="#089981" textLength="30.70" lengthAdjust="spacingAndGlyphs">83,974</text>
<text x="283.20" y="39.90" font-size="10.4" fill="#17181F" textLength="4.10" lengthAdjust="spacingAndGlyphs">L</text>
<text x="288.00" y="39.90" font-size="10.4" fill="#089981" textLength="30.60" lengthAdjust="spacingAndGlyphs">82,784</text>
<text x="325.10" y="39.90" font-size="10.4" fill="#17181F" textLength="5.30" lengthAdjust="spacingAndGlyphs">C</text>
<text x="331.40" y="39.90" font-size="10.4" fill="#089981" textLength="30.60" lengthAdjust="spacingAndGlyphs">83,525</text>
<text x="370.10" y="39.90" font-size="10.4" fill="#089981" textLength="19.50" lengthAdjust="spacingAndGlyphs">+141</text>
<text x="395.30" y="39.90" font-size="10.4" fill="#089981" textLength="38.20" lengthAdjust="spacingAndGlyphs">(+0.17%)</text>
<text x="15.75" y="55.00" font-size="10.4" fill="#17181F" textLength="13.55" lengthAdjust="spacingAndGlyphs">Vol</text>
<text x="34.80" y="55.00" font-size="10.4" fill="#17181F" text-anchor="middle" font-weight="bold">·</text>
<text x="40.20" y="55.00" font-size="10.4" fill="#17181F" textLength="17.55" lengthAdjust="spacingAndGlyphs">BTC</text>
<text x="64.50" y="55.00" font-size="10.4" fill="#26A69A" textLength="16.50" lengthAdjust="spacingAndGlyphs">273</text>
<text x="15.75" y="69.80" font-size="10.4" fill="#17181F" textLength="25.05" lengthAdjust="spacingAndGlyphs">GOLD</text>
<text x="46.50" y="69.80" font-size="10.4" fill="#17181F" text-anchor="middle" font-weight="bold">·</text>
<text x="52.20" y="69.80" font-size="10.4" fill="#17181F" textLength="17.55" lengthAdjust="spacingAndGlyphs">TVC</text>
<text x="76.80" y="69.80" font-size="10.4" fill="#FFE81A" textLength="31.50" lengthAdjust="spacingAndGlyphs">23.36%</text>
<text x="1541.40" y="36.48" font-size="10.6" fill="#17181F" textLength="31.70" lengthAdjust="spacingAndGlyphs">28.00%</text>
<text x="1541.40" y="88.78" font-size="10.6" fill="#17181F" textLength="31.70" lengthAdjust="spacingAndGlyphs">24.00%</text>
<text x="1541.40" y="141.09" font-size="10.6" fill="#17181F" textLength="31.70" lengthAdjust="spacingAndGlyphs">20.00%</text>
<text x="1541.40" y="193.40" font-size="10.6" fill="#17181F" textLength="31.70" lengthAdjust="spacingAndGlyphs">16.00%</text>
<text x="1541.40" y="245.71" font-size="10.6" fill="#17181F" textLength="31.70" lengthAdjust="spacingAndGlyphs">12.00%</text>
<text x="1541.40" y="298.01" font-size="10.6" fill="#17181F" textLength="26.30" lengthAdjust="spacingAndGlyphs">8.00%</text>
<text x="1541.40" y="350.32" font-size="10.6" fill="#17181F" textLength="26.30" lengthAdjust="spacingAndGlyphs">4.00%</text>
<text x="1541.40" y="402.63" font-size="10.6" fill="#17181F" textLength="26.30" lengthAdjust="spacingAndGlyphs">0.00%</text>
<text x="1541.40" y="454.94" font-size="10.6" fill="#17181F" textLength="31.90" lengthAdjust="spacingAndGlyphs">−4.00%</text>
<text x="1541.40" y="507.25" font-size="10.6" fill="#17181F" textLength="31.90" lengthAdjust="spacingAndGlyphs">−8.00%</text>
<text x="1541.40" y="559.55" font-size="10.6" fill="#17181F" textLength="37.70" lengthAdjust="spacingAndGlyphs">−12.00%</text>
<text x="1541.40" y="611.86" font-size="10.6" fill="#17181F" textLength="37.70" lengthAdjust="spacingAndGlyphs">−16.00%</text>
<text x="1541.40" y="664.17" font-size="10.6" fill="#17181F" textLength="37.70" lengthAdjust="spacingAndGlyphs">−20.00%</text>
<text x="1541.40" y="716.48" font-size="10.6" fill="#17181F" textLength="37.70" lengthAdjust="spacingAndGlyphs">−24.00%</text>
<rect x="1534.8" y="86.5" width="49.2" height="14.1" fill="#FFEB3B"/>
<text x="1541.60" y="97.80" font-size="10.4" fill="#0B0B10" textLength="37.50" lengthAdjust="spacingAndGlyphs">+23.36%</text>
<rect x="1534.8" y="529.3" width="52" height="26.5" rx="1" fill="#089981"/>
<text x="1541.80" y="540.80" font-size="10.6" fill="#fff" textLength="37.50" lengthAdjust="spacingAndGlyphs" font-weight="bold">−10.52%</text>
<text x="1541.80" y="552.60" font-size="10.6" fill="#fff" textLength="39.80" lengthAdjust="spacingAndGlyphs" font-weight="bold">14:17:11</text>
<rect x="1534.9" y="700.9" width="27.3" height="14.6" fill="#26A69A"/>
<text x="1541.20" y="712.50" font-size="10.6" fill="#fff" textLength="16.70" lengthAdjust="spacingAndGlyphs" font-weight="bold">273</text>
<g clip-path="url(#tclip)"><clipPath id="tclip"><rect x="9.4" y="720" width="1525" height="24"/></clipPath>
<text x="2.67" y="735.60" font-size="10.6" fill="#17181F" textLength="25.20" lengthAdjust="spacingAndGlyphs" stroke="#17181F" stroke-width="0.4">2025</text>
<text x="67.59" y="735.60" font-size="10.6" fill="#17181F" textLength="5.30" lengthAdjust="spacingAndGlyphs">5</text>
<text x="122.06" y="735.60" font-size="10.6" fill="#17181F" textLength="5.30" lengthAdjust="spacingAndGlyphs">9</text>
<text x="173.79" y="735.60" font-size="10.6" fill="#17181F" textLength="10.80" lengthAdjust="spacingAndGlyphs">13</text>
<text x="228.26" y="735.60" font-size="10.6" fill="#17181F" textLength="10.80" lengthAdjust="spacingAndGlyphs">17</text>
<text x="282.73" y="735.60" font-size="10.6" fill="#17181F" textLength="10.80" lengthAdjust="spacingAndGlyphs">21</text>
<text x="337.20" y="735.60" font-size="10.6" fill="#17181F" textLength="10.80" lengthAdjust="spacingAndGlyphs">25</text>
<text x="429.48" y="735.60" font-size="10.6" fill="#17181F" textLength="16.90" lengthAdjust="spacingAndGlyphs">Feb</text>
<text x="489.75" y="735.60" font-size="10.6" fill="#17181F" textLength="5.30" lengthAdjust="spacingAndGlyphs">5</text>
<text x="544.22" y="735.60" font-size="10.6" fill="#17181F" textLength="5.30" lengthAdjust="spacingAndGlyphs">9</text>
<text x="595.94" y="735.60" font-size="10.6" fill="#17181F" textLength="10.80" lengthAdjust="spacingAndGlyphs">13</text>
<text x="650.42" y="735.60" font-size="10.6" fill="#17181F" textLength="10.80" lengthAdjust="spacingAndGlyphs">17</text>
<text x="704.89" y="735.60" font-size="10.6" fill="#17181F" textLength="10.80" lengthAdjust="spacingAndGlyphs">21</text>
<text x="759.36" y="735.60" font-size="10.6" fill="#17181F" textLength="10.80" lengthAdjust="spacingAndGlyphs">25</text>
<text x="810.78" y="735.60" font-size="10.6" fill="#17181F" textLength="16.90" lengthAdjust="spacingAndGlyphs">Mar</text>
<text x="871.05" y="735.60" font-size="10.6" fill="#17181F" textLength="5.30" lengthAdjust="spacingAndGlyphs">5</text>
<text x="925.53" y="735.60" font-size="10.6" fill="#17181F" textLength="5.30" lengthAdjust="spacingAndGlyphs">9</text>
<text x="977.25" y="735.60" font-size="10.6" fill="#17181F" textLength="10.80" lengthAdjust="spacingAndGlyphs">13</text>
<text x="1031.72" y="735.60" font-size="10.6" fill="#17181F" textLength="10.80" lengthAdjust="spacingAndGlyphs">17</text>
<text x="1086.19" y="735.60" font-size="10.6" fill="#17181F" textLength="10.80" lengthAdjust="spacingAndGlyphs">21</text>
<text x="1140.66" y="735.60" font-size="10.6" fill="#17181F" textLength="10.80" lengthAdjust="spacingAndGlyphs">25</text>
<text x="1232.94" y="735.60" font-size="10.6" fill="#17181F" textLength="16.90" lengthAdjust="spacingAndGlyphs">Apr</text>
<text x="1293.21" y="735.60" font-size="10.6" fill="#17181F" textLength="5.30" lengthAdjust="spacingAndGlyphs">5</text>
<text x="1347.68" y="735.60" font-size="10.6" fill="#17181F" textLength="5.30" lengthAdjust="spacingAndGlyphs">9</text>
<text x="1399.41" y="735.60" font-size="10.6" fill="#17181F" textLength="10.80" lengthAdjust="spacingAndGlyphs">13</text>
<text x="1453.88" y="735.60" font-size="10.6" fill="#17181F" textLength="10.80" lengthAdjust="spacingAndGlyphs">17</text>
<text x="1508.35" y="735.60" font-size="10.6" fill="#17181F" textLength="10.80" lengthAdjust="spacingAndGlyphs">21</text>
</g>
<g id="icons">
<circle cx="1391.2" cy="708.9" r="8.3" fill="#fff" stroke="#A21CB0" stroke-width="1.3"/>
<polygon points="1393.8,704.2 1387.5,709.2 1390.9,709.5 1388.2,714 1394.9,709.1 1391.7,708.8" fill="#A21CB0" stroke="#A21CB0" stroke-width="0.4" stroke-linejoin="round"/>
<path d="M1382,707.7 Q1382.7,711.5 1386.3,712.2 Q1382.7,712.9 1382,716.7 Q1381.3,712.9 1377.7,712.2 Q1381.3,711.5 1382,707.7 Z" fill="#fff" stroke="#fff" stroke-width="2.6" stroke-linejoin="round"/>
<path d="M1382,707.7 Q1382.7,711.5 1386.3,712.2 Q1382.7,712.9 1382,716.7 Q1381.3,712.9 1377.7,712.2 Q1381.3,711.5 1382,707.7 Z" fill="#7C4DFF"/>
<circle cx="1458.3" cy="708.5" r="9.0" fill="#fff" stroke="#F23645" stroke-width="1.45"/>
<clipPath id="fc1"><circle cx="1458.3" cy="708.5" r="6.95"/></clipPath>
<g clip-path="url(#fc1)">
<rect x="1451.3" y="701.5" width="14" height="14" fill="#fff"/>
<rect x="1451.3" y="701.50" width="14" height="2.70" fill="#F0453A"/>
<rect x="1451.3" y="707.10" width="14" height="2.90" fill="#F0281A"/>
<rect x="1451.3" y="712.60" width="14" height="2.90" fill="#F0453A"/>
<rect x="1451.3" y="701.5" width="8.9" height="8.55" fill="#2188E8"/>
<rect x="1453.30" y="703.90" width="0.9" height="0.6" fill="#BFDDF8"/>
<rect x="1453.30" y="705.80" width="0.9" height="0.6" fill="#BFDDF8"/>
<rect x="1453.30" y="707.90" width="0.9" height="0.6" fill="#BFDDF8"/>
<rect x="1455.10" y="703.90" width="0.9" height="0.6" fill="#BFDDF8"/>
<rect x="1455.10" y="705.80" width="0.9" height="0.6" fill="#BFDDF8"/>
<rect x="1455.10" y="707.90" width="0.9" height="0.6" fill="#BFDDF8"/>
<rect x="1456.90" y="703.90" width="0.9" height="0.6" fill="#BFDDF8"/>
<rect x="1456.90" y="705.80" width="0.9" height="0.6" fill="#BFDDF8"/>
<rect x="1456.90" y="707.90" width="0.9" height="0.6" fill="#BFDDF8"/>
<rect x="1458.70" y="703.90" width="0.9" height="0.6" fill="#BFDDF8"/>
<rect x="1458.70" y="705.80" width="0.9" height="0.6" fill="#BFDDF8"/>
<rect x="1458.70" y="707.90" width="0.9" height="0.6" fill="#BFDDF8"/>
</g>
<circle cx="1444.9" cy="708.5" r="9.0" fill="#fff" stroke="#F23645" stroke-width="1.45"/>
<clipPath id="fc2"><circle cx="1444.9" cy="708.5" r="6.95"/></clipPath>
<g clip-path="url(#fc2)">
<rect x="1437.9" y="701.5" width="14" height="14" fill="#fff"/>
<rect x="1437.9" y="701.50" width="14" height="2.70" fill="#F0453A"/>
<rect x="1437.9" y="707.10" width="14" height="2.90" fill="#F0281A"/>
<rect x="1437.9" y="712.60" width="14" height="2.90" fill="#F0453A"/>
<rect x="1437.9" y="701.5" width="8.9" height="8.55" fill="#2188E8"/>
<rect x="1439.90" y="703.90" width="0.9" height="0.6" fill="#BFDDF8"/>
<rect x="1439.90" y="705.80" width="0.9" height="0.6" fill="#BFDDF8"/>
<rect x="1439.90" y="707.90" width="0.9" height="0.6" fill="#BFDDF8"/>
<rect x="1441.70" y="703.90" width="0.9" height="0.6" fill="#BFDDF8"/>
<rect x="1441.70" y="705.80" width="0.9" height="0.6" fill="#BFDDF8"/>
<rect x="1441.70" y="707.90" width="0.9" height="0.6" fill="#BFDDF8"/>
<rect x="1443.50" y="703.90" width="0.9" height="0.6" fill="#BFDDF8"/>
<rect x="1443.50" y="705.80" width="0.9" height="0.6" fill="#BFDDF8"/>
<rect x="1443.50" y="707.90" width="0.9" height="0.6" fill="#BFDDF8"/>
<rect x="1445.30" y="703.90" width="0.9" height="0.6" fill="#BFDDF8"/>
<rect x="1445.30" y="705.80" width="0.9" height="0.6" fill="#BFDDF8"/>
<rect x="1445.30" y="707.90" width="0.9" height="0.6" fill="#BFDDF8"/>
</g>
</g>
<g transform="translate(8.8,753.15) scale(0.467,0.485)" fill="#050505"><path d="M14 22H7V11H0V4h14v18zM28 22h-8l7.5-18h8L28 22z"/><circle cx="20" cy="8" r="4"/></g>
<text x="29.00" y="764.00" font-size="10.6" fill="#17181F" textLength="61.00" lengthAdjust="spacingAndGlyphs">TradingView</text>
</svg></body></html>
